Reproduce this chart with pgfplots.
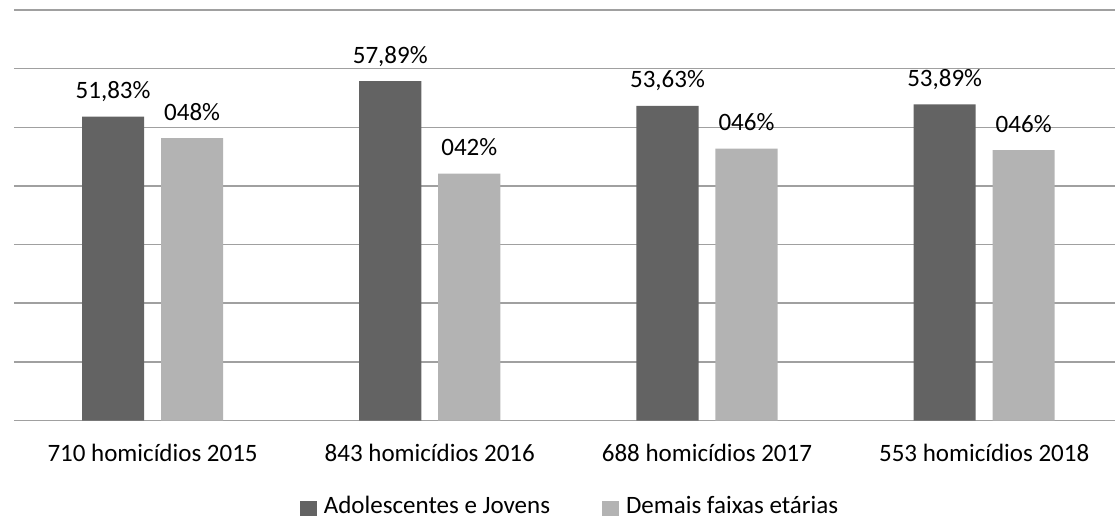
\documentclass[border=0pt]{standalone}
\usepackage{pgfplots}
\pgfplotsset{compat=1.18}
\usepackage{fontspec}
\setmainfont{Carlito}
\definecolor{darkbar}{HTML}{636363}
\definecolor{lightbar}{HTML}{B3B3B3}
\definecolor{gridc}{HTML}{A0A0A0}
\begin{document}
\fontsize{25bp}{30bp}\selectfont
\begin{tikzpicture}
\begin{axis}[
  at={(14bp,99.5bp)}, anchor=south west,
  scale only axis, width=1101bp, height=410.5bp,
  xmin=-0.5, xmax=3.472, ymin=0, ymax=70,
  axis line style={draw=none},
  tick style={draw=none},
  ytick={0,10,...,70}, yticklabels={},
  ymajorgrids, grid style={gridc, line width=1.5bp},
  xtick={0,1,2,3},
  xticklabels={710 homicídios 2015, 843 homicídios 2016, 688 homicídios 2017, 553 homicídios 2018},
  xticklabel style={anchor=base, yshift=-41bp, font=\fontsize{25bp}{30bp}\selectfont},
  legend columns=2,
  legend style={at={(0.505,-0.247)}, anchor=south, draw=none, fill=none,
    font=\fontsize{25bp}{30bp}\selectfont,
    /tikz/every odd column/.append style={column sep=5bp},
    /tikz/every even column/.append style={column sep=50bp}},
  clip=false,
]
\addplot[ybar, bar width=0.224, bar shift=0pt, fill=darkbar, draw=none,
  nodes near coords, point meta=explicit symbolic,
  every node near coord/.style={anchor=base, yshift=18bp, inner sep=0pt, text=black, font=\fontsize{25bp}{30bp}\selectfont},
  legend image code/.code={\fill[darkbar] (0bp,-9bp) rectangle (17bp,6bp);}]
  coordinates {(-0.1425,51.83) [51,83\%] (0.8575,57.89) [57,89\%] (1.8575,53.63) [53,63\%] (2.8575,53.89) [53,89\%]};
\addlegendentry{Adolescentes e Jovens}
\addplot[ybar, bar width=0.224, bar shift=0pt, fill=lightbar, draw=none,
  nodes near coords, point meta=explicit symbolic,
  every node near coord/.style={anchor=base, yshift=18bp, inner sep=0pt, text=black, font=\fontsize{25bp}{30bp}\selectfont},
  legend image code/.code={\fill[lightbar] (0bp,-9bp) rectangle (17bp,6bp);}]
  coordinates {(0.1425,48.17) [048\%] (1.1425,42.11) [042\%] (2.1425,46.37) [046\%] (3.1425,46.11) [046\%]};
\addlegendentry{Demais faixas etárias}
\end{axis}
\pgfresetboundingbox
\path[use as bounding box] (0,0) rectangle (1115bp,520bp);
\end{tikzpicture}
\end{document}
